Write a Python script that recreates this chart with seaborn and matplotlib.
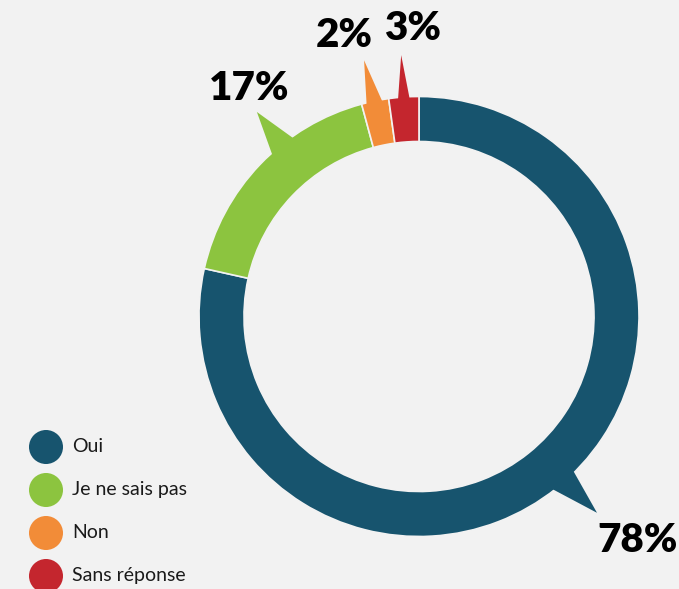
import numpy as np
import pandas as pd
import matplotlib
matplotlib.use("Agg")
import matplotlib.pyplot as plt
from matplotlib.patches import Polygon
import seaborn as sns

# ---- data ----
categories = ["Oui", "Je ne sais pas", "Non", "Sans réponse"]
values = [78.5, 17.3, 2.0, 2.2]          # shares as drawn in the ring
labels = ["78%", "17%", "2%", "3%"]       # printed labels
colors = ["#17546e", "#8cc43f", "#f28c38", "#c4262e"]

BG = "#f2f2f2"
sns.set_style("white")
plt.rcParams["font.family"] = ["Lato", "DejaVu Sans"]

W, H = 679, 589
fig = plt.figure(figsize=(W / 100, H / 100), dpi=100, facecolor=BG)
ax = fig.add_axes([0, 0, 1, 1])
ax.set_facecolor(BG)

cx, cy = 419, H - 316.5
R, width = 220, 45

wedges, _ = ax.pie(values, colors=colors, startangle=90, counterclock=False,
                   radius=R, center=(cx, cy), frame=True,
                   wedgeprops=dict(width=width, edgecolor=BG, linewidth=1.2))

# pointer geometry (degrees, math convention): base1, base2, tip angle, tip radius
pointers = [(-44.7, -52.8, -47.8, 265),
            (132.7, 124.8, 128.4, 261),
            (104.1, 99.4, 102.1, 262),
            (95.7, 92.3, 93.9, 262)]
rb = R - 6
for (a1, a2, at, rt), col in zip(pointers, colors):
    pts = [(cx + rb * np.cos(np.radians(a1)), cy + rb * np.sin(np.radians(a1))),
           (cx + rt * np.cos(np.radians(at)), cy + rt * np.sin(np.radians(at))),
           (cx + rb * np.cos(np.radians(a2)), cy + rb * np.sin(np.radians(a2)))]
    ax.add_patch(Polygon(pts, closed=True, facecolor=col, edgecolor="none", zorder=3))

# percentage labels (image-coordinate centers)
label_pos = [(638, 540), (249, 89), (344, 35.5), (413, 28)]
for (x, y), lab in zip(label_pos, labels):
    ax.text(x, H - y, lab, ha="center", va="center", fontsize=29,
            fontweight="heavy", color="#000000", zorder=4)

# legend
leg = pd.DataFrame({"cat": categories,
                    "x": [46] * 4,
                    "y": [H - (447 + 43 * i) for i in range(4)]})
sns.scatterplot(data=leg, x="x", y="y", hue="cat", palette=colors,
                s=600, linewidth=0, legend=False, ax=ax, zorder=4)
for _, r in leg.iterrows():
    ax.text(r["x"] + 26, r["y"], r["cat"], ha="left", va="center",
            fontsize=14, color="#1a1a1a")

ax.set_xlim(0, W)
ax.set_ylim(0, H)
ax.set_aspect("equal")
ax.axis("off")
fig.savefig("out.png", dpi=100, facecolor=BG)
